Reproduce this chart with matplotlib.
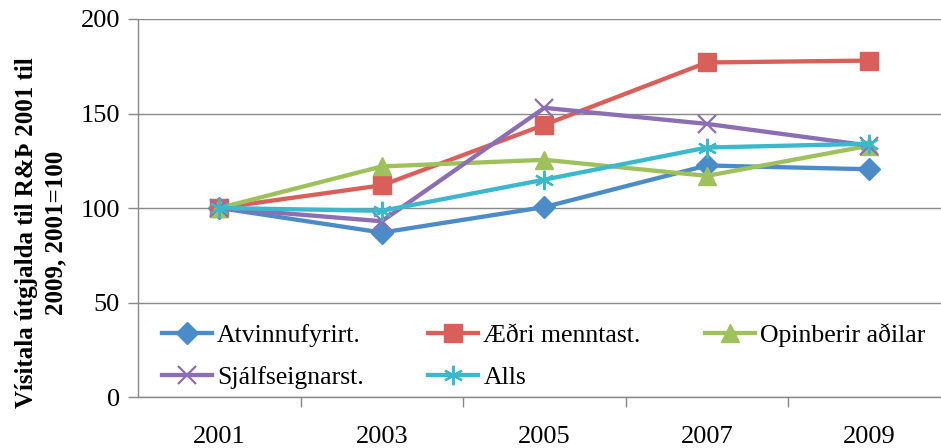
import matplotlib
matplotlib.use('Agg')
import matplotlib.pyplot as plt

years = ['2001', '2003', '2005', '2007', '2009']
atvinnu = [100, 87, 100.5, 122.5, 120.5]
aedri = [100, 112, 144, 177, 178]
opinberir = [100, 122, 125.5, 117, 133]
sjalfs = [100, 93, 153, 144.5, 133]
alls = [100, 98.5, 115, 132, 134]

series = [
    ('Atvinnufyrirt.', atvinnu, '#4B8CC8', 'D', 11.5),
    ('Æðri menntast.', aedri, '#D9605A', 's', 13.5),
    ('Opinberir aðilar', opinberir, '#9FC15D', '^', 13),
    ('Sjálfseignarst.', sjalfs, '#8C6EB2', 'x', 13),
    ('Alls', alls, '#3CB8CD', (6, 2, 0), 14),
]

plt.rcParams['font.family'] = ['Liberation Serif', 'DejaVu Serif']

fig = plt.figure(figsize=(9.41, 4.48), dpi=100)
ax = fig.add_axes([0.1467, 0.1138, 0.8533, 0.8438])

x = list(range(len(years)))
lines = {}
for name, vals, col, mk, ms in series:
    ln, = ax.plot(x, vals, color=col, lw=3.1, marker=mk, markersize=ms,
                  markeredgewidth=1.6 if mk in ('x', (6, 2, 0)) else 1,
                  markeredgecolor=col, label=name)
    lines[name] = ln

ax.set_ylim(0, 200)
ax.set_yticks([0, 50, 100, 150, 200])
ax.set_xlim(-0.5, 4.44)
ax.set_xticks(x)
ax.set_xticklabels(years)
ax.set_xticks([0.5, 1.5, 2.5, 3.5], minor=True)
ax.tick_params(axis='x', which='major', length=0, pad=21, labelsize=19)
ax.tick_params(axis='x', which='minor', length=7, width=1, color='#898989')
ax.tick_params(axis='y', length=7, width=1, color='#898989', labelsize=19, pad=6)
ax.grid(axis='y', color='#898989', lw=1)
ax.set_axisbelow(True)
for s in ['top', 'right']:
    ax.spines[s].set_visible(False)
for s in ['left', 'bottom']:
    ax.spines[s].set_color('#898989')
    ax.spines[s].set_linewidth(1)

fig.text(0.044, 0.48, 'Vísitala útgjalda til R&Þ 2001 til\n2009, 2001=100',
         rotation=90, ha='center', va='center', fontsize=18,
         fontweight='bold', multialignment='center', linespacing=1.35)

# legend fills by column, so order handles to read row-wise
order = ['Atvinnufyrirt.', 'Sjálfseignarst.', 'Æðri menntast.', 'Alls', 'Opinberir aðilar']
ax.legend([lines[n] for n in order], order, loc='upper left',
          bbox_to_anchor=(0.017, 0.222), ncol=3, frameon=False,
          fontsize=18.5, handlelength=1.95, handletextpad=0.2, columnspacing=2.5,
          labelspacing=0.72, borderaxespad=0)

fig.savefig('out.png', dpi=100)
